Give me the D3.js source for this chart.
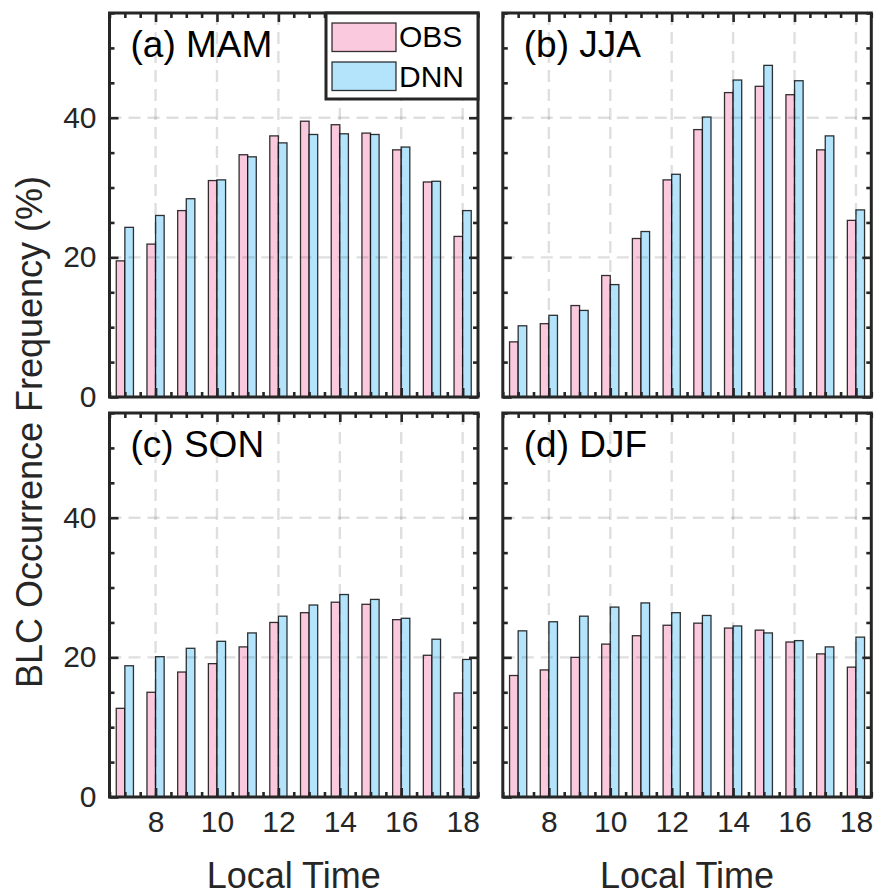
<!DOCTYPE html>
<meta charset="utf-8">
<style type="text/css">
	body {
		margin: 0;
		background: #fff;
		font-family: "Liberation Sans", Arial, sans-serif;
	}

	.tick line {
		stroke: #262626;
		stroke-width: 2.6px;
	}

	.tick text {
		font-family: "Liberation Sans", Arial, sans-serif;
		font-size: 30px;
		fill: #262626;
	}

	.grid line {
		stroke: #262626;
		stroke-opacity: 0.15;
		stroke-width: 2.4px;
		stroke-dasharray: 12, 7;
	}

	.bar {
		stroke: #000;
		stroke-opacity: 0.8;
		stroke-width: 1.3px;
	}

	.frame {
		fill: none;
		stroke: #262626;
		stroke-width: 3px;
	}

	.title {
		font-size: 37px;
		fill: #000;
	}

	.lab {
		font-size: 36px;
		fill: #262626;
	}

	.legend text {
		font-size: 30px;
		fill: #000;
	}
</style>

<body>
<div class="g-chart"></div>
</body>

<script src="https://d3js.org/d3.v7.min.js"></script>

<script>
  //Data
  var hours = [7, 8, 9, 10, 11, 12, 13, 14, 15, 16, 17, 18];
  var xTicks = [8, 10, 12, 14, 16, 18];
  var yTicks = [0, 20, 40];
  var seriesNames = ["OBS", "DNN"];
  var panelTitles = ["(a) MAM", "(b) JJA", "(c) SON", "(d) DJF"];

  var obsMAM = [19.5, 21.9, 26.7, 31.0, 34.7, 37.4, 39.5, 39.0, 37.8, 35.4, 30.8, 23.0];
  var dnnMAM = [24.3, 26.0, 28.4, 31.1, 34.4, 36.4, 37.6, 37.7, 37.6, 35.8, 30.9, 26.7];
  var obsJJA = [7.9, 10.5, 13.1, 17.4, 22.7, 31.1, 38.3, 43.6, 44.5, 43.3, 35.4, 25.3];
  var dnnJJA = [10.2, 11.7, 12.4, 16.1, 23.7, 31.9, 40.1, 45.4, 47.5, 45.3, 37.4, 26.8];
  var obsSON = [12.7, 15.0, 17.9, 19.1, 21.5, 25.0, 26.4, 27.9, 27.6, 25.4, 20.3, 14.9];
  var dnnSON = [18.8, 20.1, 21.3, 22.3, 23.5, 25.9, 27.5, 29.0, 28.3, 25.6, 22.6, 19.7];
  var obsDJF = [17.4, 18.2, 20.0, 21.9, 23.1, 24.6, 24.9, 24.2, 23.9, 22.2, 20.5, 18.6];
  var dnnDJF = [23.8, 25.1, 25.9, 27.2, 27.8, 26.4, 26.0, 24.5, 23.5, 22.4, 21.5, 22.9];

  var panelData = [
    [obsMAM, dnnMAM],
    [obsJJA, dnnJJA],
    [obsSON, dnnSON],
    [obsDJF, dnnDJF]
  ];

  var colors = ["#fac9de", "#b3e4fb"];

  //Layout
  var width = 874, height = 895;
  var colX = [109.5, 502.8], rowY = [13, 413];
  var pw = 368.5, ph = 384;
  var barW = 0.28;

  var svg = d3.select(".g-chart").append("svg")
    .attr("width", width)
    .attr("height", height);

  var xScale = d3.scaleLinear().domain([6.5, 18.5]).range([0, pw]);
  var yScale = d3.scaleLinear().domain([0, 55]).range([ph, 0]);

  var xMinor = d3.range(6.5, 18.51, 0.5).filter(function(d) { return xTicks.indexOf(d) < 0; });
  var yMinor = d3.range(0, 55.1, 5).filter(function(d) { return yTicks.indexOf(d) < 0; });

  panelData.forEach(function(series, i) {
    var col = i % 2, row = Math.floor(i / 2);
    var g = svg.append("g")
      .attr("transform", "translate(" + colX[col] + "," + rowY[row] + ")");

    //bars
    series.forEach(function(vals, s) {
      g.selectAll("rect.s" + s)
        .data(vals)
        .enter()
        .append("rect")
        .attr("class", "bar s" + s)
        .attr("x", function(d, k) { return xScale(hours[k] + (s === 0 ? -barW : 0)); })
        .attr("width", xScale(6.5 + barW) - xScale(6.5))
        .attr("y", function(d) { return yScale(d); })
        .attr("height", function(d) { return ph - yScale(d); })
        .style("fill", colors[s]);
    });

    //grid on top
    var grid = g.append("g").attr("class", "grid");
    grid.selectAll("line.v")
      .data(xTicks)
      .enter().append("line")
      .attr("x1", function(d) { return xScale(d); })
      .attr("x2", function(d) { return xScale(d); })
      .attr("y1", 0).attr("y2", ph);
    grid.selectAll("line.h")
      .data([20, 40])
      .enter().append("line")
      .attr("x1", 0).attr("x2", pw)
      .attr("y1", function(d) { return yScale(d); })
      .attr("y2", function(d) { return yScale(d); });

    //ticks (inward, all four sides)
    function addAxis(axis, tx, ty) {
      var a = g.append("g")
        .attr("class", "axis")
        .attr("transform", "translate(" + tx + "," + ty + ")")
        .call(axis);
      a.select(".domain").remove();
      return a;
    }

    addAxis(d3.axisBottom(xScale).tickValues(xMinor).tickSize(-5).tickFormat(""), 0, ph);
    addAxis(d3.axisTop(xScale).tickValues(xMinor).tickSize(-5).tickFormat(""), 0, 0);
    addAxis(d3.axisTop(xScale).tickValues(xTicks).tickSize(-9).tickFormat(""), 0, 0);
    var xb = addAxis(d3.axisBottom(xScale).tickValues(xTicks).tickSize(-9)
      .tickFormat(row === 1 ? d3.format("d") : ""), 0, ph);
    xb.selectAll(".tick text").attr("y", 35).attr("dy", null);

    addAxis(d3.axisLeft(yScale).tickValues(yMinor).tickSize(-5).tickFormat(""), 0, 0);
    addAxis(d3.axisRight(yScale).tickValues(yMinor).tickSize(-5).tickFormat(""), pw, 0);
    addAxis(d3.axisRight(yScale).tickValues(yTicks).tickSize(-9).tickFormat(""), pw, 0);
    addAxis(d3.axisLeft(yScale).tickValues(yTicks).tickSize(-9).tickPadding(13)
      .tickFormat(col === 0 ? d3.format("d") : ""), 0, 0);

    //frame
    g.append("rect")
      .attr("class", "frame")
      .attr("width", pw)
      .attr("height", ph);

    //panel title
    g.append("text")
      .attr("class", "title")
      .attr("x", 21)
      .attr("y", 44)
      .text(panelTitles[i]);

    //x label
    if (row === 1) {
      g.append("text")
        .attr("class", "lab")
        .attr("x", pw / 2)
        .attr("y", ph + 91)
        .attr("text-anchor", "middle")
        .text("Local Time");
    }

    //legend in panel (a)
    if (i === 0) {
      var lg = g.append("g")
        .attr("class", "legend")
        .attr("transform", "translate(" + (pw - 152) + ",0)");
      lg.append("rect")
        .attr("class", "frame")
        .attr("width", 152)
        .attr("height", 86)
        .style("fill", "#fff");
      seriesNames.forEach(function(name, s) {
        lg.append("rect")
          .attr("class", "bar")
          .attr("x", 6)
          .attr("y", 10 + s * 39)
          .attr("width", 64)
          .attr("height", 28.5)
          .style("fill", colors[s]);
        lg.append("text")
          .attr("x", 73)
          .attr("y", 34 + s * 40)
          .text(name);
      });
    }
  });

  //y label
  svg.append("text")
    .attr("class", "lab")
    .attr("transform", "translate(42,432) rotate(-90)")
    .attr("text-anchor", "middle")
    .text("BLC Occurrence Frequency (%)");
</script>
